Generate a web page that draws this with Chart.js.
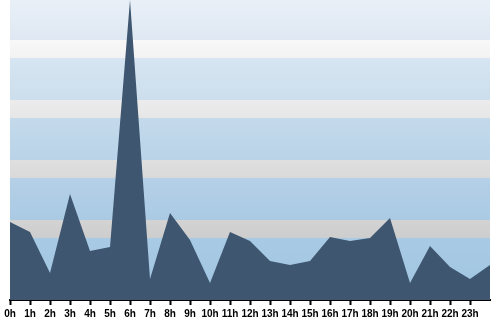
<!DOCTYPE html>
<html>
<head>
<meta charset="utf-8">
<script src="https://cdn.jsdelivr.net/npm/chart.js@4"></script>
<style>
  html, body { margin: 0; padding: 0; background: #fff; }
  #wrap { width: 500px; height: 320px; }
</style>
</head>
<body>
<div id="wrap"><canvas id="hourChart"></canvas></div>
<script>
// Hourly activity (last point has no label)
const hourLabels = ['0h', '1h', '2h', '3h', '4h', '5h', '6h', '7h', '8h', '9h', '10h', '11h',
    '12h', '13h', '14h', '15h', '16h', '17h', '18h', '19h', '20h', '21h', '22h', '23h', ''];
const hourValues = [78, 68, 27, 106, 49, 53, 300, 21, 87, 60, 17, 68,
    59, 39, 35, 39, 63, 59, 62, 82, 17, 54, 33, 21, 35];
const yMax = 300;

// Striped background bands (value ranges on the y axis, top to bottom)
const bands = [
    { from: 300, to: 260, top: '#e8eff7', bottom: '#dfe8f2' },
    { from: 260, to: 242, top: '#f8f8f8', bottom: '#f2f2f2' },
    { from: 242, to: 200, top: '#d6e5f1', bottom: '#ccdeed' },
    { from: 200, to: 182, top: '#ececec', bottom: '#e6e6e6' },
    { from: 182, to: 140, top: '#c4daeb', bottom: '#bad3e8' },
    { from: 140, to: 122, top: '#dfdfdf', bottom: '#d9d9da' },
    { from: 122, to: 80, top: '#b5d0e7', bottom: '#aacae4' },
    { from: 80, to: 62, top: '#d3d3d3', bottom: '#cdcdcd' },
    { from: 62, to: 0, top: '#a9cae4', bottom: '#9fc4e1' }
];

const bandPlugin = {
    id: 'bands',
    beforeDraw(chart) {
        const ctx = chart.ctx;
        const area = chart.chartArea;
        const y = chart.scales.y;
        ctx.save();
        bands.forEach(b => {
            const y1 = y.getPixelForValue(b.from);
            const y2 = y.getPixelForValue(b.to);
            const g = ctx.createLinearGradient(0, y1, 0, y2);
            g.addColorStop(0, b.top);
            g.addColorStop(1, b.bottom);
            ctx.fillStyle = g;
            ctx.fillRect(area.left, y1, area.right - area.left, y2 - y1);
        });
        ctx.restore();
    }
};

new Chart(document.getElementById('hourChart'), {
    type: 'line',
    data: {
        labels: hourLabels,
        datasets: [{
            data: hourValues,
            fill: 'origin',
            backgroundColor: '#3e566f',
            borderWidth: 0,
            pointRadius: 0,
            tension: 0
        }]
    },
    options: {
        responsive: true,
        maintainAspectRatio: false,
        animation: false,
        layout: { padding: { left: 10, right: 10, top: 0, bottom: -3 } },
        plugins: {
            legend: { display: false },
            tooltip: { enabled: false }
        },
        scales: {
            x: {
                offset: false,
                grid: {
                    drawOnChartArea: false,
                    drawTicks: true,
                    tickLength: 5,
                    tickWidth: 2,
                    tickColor: ctx => ctx.index === hourLabels.length - 1 ? 'rgba(0,0,0,0)' : '#000'
                },
                border: { display: true, color: '#000', width: 2 },
                ticks: {
                    color: '#000',
                    maxRotation: 0,
                    autoSkip: false,
                    padding: 3,
                    font: { family: '"Liberation Sans", Arial', size: 10, weight: 'bold' }
                }
            },
            y: {
                display: false,
                min: 0,
                max: yMax
            }
        }
    },
    plugins: [bandPlugin]
});
</script>
</body>
</html>
